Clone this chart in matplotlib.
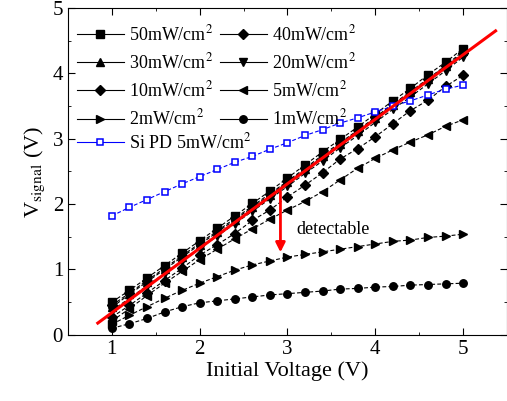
import numpy as np
import matplotlib
matplotlib.use("Agg")
import matplotlib.pyplot as plt

plt.rcParams['font.family'] = ['Liberation Serif', 'DejaVu Serif']
plt.rcParams['mathtext.fontset'] = 'stix'

# initial voltage (V)
v_init = [1.0, 1.2, 1.4, 1.6, 1.8, 2.0, 2.2, 2.4, 2.6, 2.8, 3.0,
          3.2, 3.4, 3.6, 3.8, 4.0, 4.2, 4.4, 4.6, 4.8, 5.0]

# V_signal (V) for each light intensity
p50 = [0.50, 0.68, 0.87, 1.06, 1.25, 1.44, 1.63, 1.82, 2.01, 2.20, 2.40,
       2.60, 2.80, 2.99, 3.18, 3.38, 3.58, 3.77, 3.98, 4.17, 4.38]
p40 = [0.45, 0.64, 0.83, 1.02, 1.21, 1.40, 1.59, 1.78, 1.97, 2.16, 2.35,
       2.55, 2.75, 2.94, 3.13, 3.33, 3.53, 3.72, 3.92, 4.11, 4.31]
p30 = [0.42, 0.62, 0.81, 1.00, 1.19, 1.38, 1.57, 1.76, 1.95, 2.14, 2.34,
       2.53, 2.73, 2.92, 3.12, 3.32, 3.52, 3.71, 3.91, 4.12, 4.34]
p20 = [0.37, 0.56, 0.75, 0.94, 1.13, 1.32, 1.51, 1.70, 1.89, 2.08, 2.27,
       2.47, 2.66, 2.86, 3.05, 3.25, 3.45, 3.64, 3.84, 4.04, 4.25]
p10 = [0.27, 0.45, 0.64, 0.83, 1.02, 1.22, 1.38, 1.55, 1.75, 1.91, 2.11,
       2.29, 2.48, 2.69, 2.85, 3.03, 3.23, 3.43, 3.59, 3.80, 3.97]
p5 = [0.21, 0.40, 0.60, 0.79, 0.97, 1.15, 1.31, 1.47, 1.62, 1.77, 1.91,
      2.04, 2.19, 2.37, 2.55, 2.70, 2.83, 2.95, 3.06, 3.19, 3.29]
p2 = [0.16, 0.30, 0.43, 0.56, 0.68, 0.79, 0.89, 0.99, 1.07, 1.13, 1.19,
      1.23, 1.27, 1.31, 1.35, 1.39, 1.43, 1.45, 1.49, 1.51, 1.54]
p1 = [0.10, 0.17, 0.25, 0.35, 0.43, 0.49, 0.52, 0.55, 0.58, 0.61, 0.63,
      0.65, 0.67, 0.70, 0.71, 0.73, 0.74, 0.76, 0.77, 0.78, 0.79]
si_pd = [1.82, 1.95, 2.07, 2.19, 2.31, 2.42, 2.53, 2.64, 2.73, 2.84, 2.94,
         3.05, 3.14, 3.24, 3.32, 3.41, 3.50, 3.58, 3.67, 3.76, 3.82]

# linear fit (red) end points
fit_x = [0.84, 5.37]
fit_y = [0.18, 4.65]

series = [
    (p50, "s", "50mW/cm$^2$"),
    (p40, "D", "40mW/cm$^2$"),
    (p30, "^", "30mW/cm$^2$"),
    (p20, "v", "20mW/cm$^2$"),
    (p10, "D", "10mW/cm$^2$"),
    (p5, "<", "5mW/cm$^2$"),
    (p2, ">", "2mW/cm$^2$"),
    (p1, "o", "1mW/cm$^2$"),
]

fig = plt.figure(figsize=(5.07, 4.01), dpi=100)
ax = fig.add_axes([0.134, 0.165, 0.866, 0.815])

handles = []
for y, m, lab in series:
    ms = 4.7 if m == "D" else 5.4
    h, = ax.plot(v_init, y, color="black", ls=(0, (3.5, 2)), lw=0.8, marker=m,
                 ms=ms, mfc="black", mec="black", label=lab)
    handles.append(h)
sp, = ax.plot(v_init, si_pd, color="blue", ls=(0, (3.5, 2)), lw=0.8, marker="s",
              ms=4, mfc="white", mec="blue", mew=1.1, label="Si PD 5mW/cm$^2$")

ax.plot(fit_x, fit_y, color="red", lw=2.2, zorder=5)
ax.annotate("", xy=(2.92, 1.22), xytext=(2.92, 2.24),
            arrowprops=dict(arrowstyle="-|>", color="red", lw=2,
                            mutation_scale=14), zorder=6)
ax.text(3.1, 1.55, "detectable", fontsize=13)

ax.set_xlim(0.5, 5.5)
ax.set_ylim(0, 5)
ax.set_xticks([1, 2, 3, 4, 5])
ax.set_yticks([0, 1, 2, 3, 4, 5])
ax.set_xticks(np.arange(1.5, 5.5, 1), minor=True)
ax.set_yticks(np.arange(0.5, 5, 1), minor=True)
ax.tick_params(which="both", direction="in", top=True, right=True,
               labelsize=15)
ax.tick_params(which="major", length=5)
ax.tick_params(which="minor", length=2.5)
ax.set_xlabel("Initial Voltage (V)", fontsize=16, labelpad=2)
ax.set_ylabel("V$_{\\mathrm{signal}}$ (V)", fontsize=16, labelpad=4)

# row-wise two-column legend, Si PD entry on its own row below
order = [0, 2, 4, 6, 1, 3, 5, 7]
leg_kw = dict(frameon=False, fontsize=13, handlelength=2.6,
              handletextpad=0.3, columnspacing=0.35, labelspacing=0.45,
              borderaxespad=0, borderpad=0)
leg = ax.legend([handles[i] for i in order],
                [handles[i].get_label() for i in order],
                loc="center left", bbox_to_anchor=(0.02, 0.79), ncol=2,
                **leg_kw)
leg2 = ax.legend([sp], [sp.get_label()], loc="center left",
                 bbox_to_anchor=(0.02, 0.59), **leg_kw)
ax.add_artist(leg)
for lg in (leg, leg2):
    for ln in lg.get_lines():
        ln.set_linestyle("-")

fig.savefig("out.png", dpi=100)
